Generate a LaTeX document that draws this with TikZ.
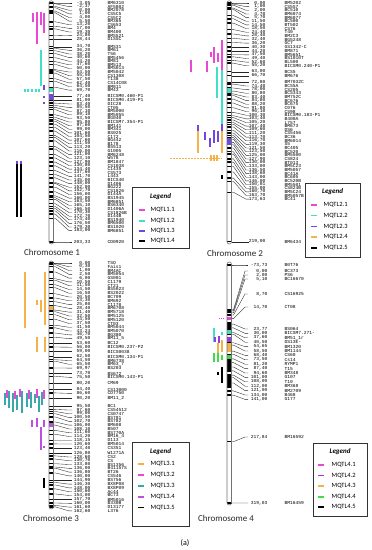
\documentclass[tikz,border=0pt]{standalone}
\usepackage{fontspec}
\setmainfont{Carlito}
\newfontfamily\monofam{Liberation Mono}
\newcommand\labfont{\monofam\fontsize{4.6}{5}\selectfont}
\definecolor{cmag}{RGB}{232,72,214}
\definecolor{cturq}{RGB}{64,224,200}
\definecolor{cpur}{RGB}{112,72,224}
\definecolor{corg}{RGB}{244,178,72}
\definecolor{cteal}{RGB}{56,168,168}
\definecolor{cvio}{RGB}{190,80,225}
\definecolor{cgrn}{RGB}{64,220,72}
\definecolor{cpurf}{RGB}{150,60,220}
\pgfkeys{/pgf/number format/.cd,fixed,fixed zerofill,precision=2,use comma,assume math mode=true}
\newcommand\mapchrom[9]{%
  \gdef\prevly{-100}%
  \foreach \cm/\nm [count=\i] in {#9}{%
    \pgfmathsetmacro\by{#3+(\cm-(#5))*#4}%
    \pgfmathsetmacro\ly{max(\by,\prevly+\lsp)}%
    \global\let\prevly\ly
    \draw[band] (#2,\by) -- ++(4.5,0);
    \node[lab,anchor=east] (#1p\i) at (#7,\ly) {\pgfmathprintnumber{\cm}};
    \node[lab,anchor=west] (#1n\i) at (#8,\ly) {\nm};
    \coordinate (#1e\i) at (#6,\ly);
    \draw[conn] (#2+4.5,\by) -- ++(2,0) -- (#6-3,\ly) -- (#1e\i);
  }%
}
\newcommand\mapchromfix[9]{%
  \foreach \cm/\nm/\ly [count=\i] in {#9}{%
    \pgfmathsetmacro\by{#3+(\cm-(#5))*#4}%
    \draw[band] (#2,\by) -- ++(4.5,0);
    \node[lab,anchor=east] (#1p\i) at (#7,\ly) {\pgfmathprintnumber{\cm}};
    \node[lab,anchor=west] (#1n\i) at (#8,\ly) {\nm};
    \coordinate (#1e\i) at (#6,\ly);
    \draw[conn] (#2+4.5,\by) -- ++(2,0) -- (#6-3,\ly) -- (#1e\i);
  }%
}
\begin{document}
\begin{tikzpicture}[x=1pt,y=-1pt,
  band/.style={line width=1.4pt,black},
  conn/.style={line width=0.35pt,black!85},
  lab/.style={font=\labfont,inner sep=0.3pt},
  barfill/.style={fill=white,rounded corners=2.2pt},
  barline/.style={draw=black!55,line width=0.6pt,rounded corners=2.2pt},
  q/.style={line width=1.1pt},
  leg/.style={draw=black!80,line width=0.9pt,fill=white},
  legt/.style={font=\fontsize{7}{8}\selectfont\bfseries\itshape},
  legl/.style={font=\fontsize{6.5}{7}\selectfont,anchor=west,inner sep=0.5pt},
  legk/.style={line width=1.5pt},
  ctitle/.style={font=\fontsize{9}{10}\selectfont,text=black!85}]
\useasboundingbox (0,0) rectangle (372,550);
\fill[white] (0,0) rectangle (372,550);

% ---------------- Chromosome 1
\fill[barfill] (49,0.8) rectangle (53.5,244);
\def\lsp{3.62}
\mapchrom{c1}{49}{3}{1.158}{-3.05}{72}{91}{107}{-3.05/BM6310,-2.37/AF5802,0/BM2078,1/CS5C5,4/CS5C2,5.5/BM365,13.2/CS653,17/BM4,19.3/BM400,24.8/BMS521,28.44/D1SSC,34.7/BMS31,36.2/BM61,38.2/T56,40.6/BM5456,44.2/BM81,47.6/BM513,50/BMS013,54.5/BM5042,55.5/CS1308,57.5/T138,62.4/CS14C08,64.5/BM811,69.7/BM43,77.4/BICSM0.460-P1,81/BICSM0.419-P1,83.4/DIC28,85.5/CT05,87.1/BM5000,89.1/BM5055,93.5/BG040,95.8/BICSM7.354-P1,97.6/BM141,99/BM341,101.6/BS025,104.5/C172,107.6/BG442,111.5/B178,113.2/BS513,116/G1005,121/BM6248,123.1/W578,127.9/BM1847,130.8/CS1038,134.4/C1435,137.6/CS573,141.7/L443,145/BICS40,148/D1406,152/BG222,152.7/CS1826,156/D144A,160/BS1945,163.5/BM6851,165.1/BS6340,166.5/D1406A,170.3/CS1826B,172.7/D144B,174.4/BS1940,176.5/BM6500,179.3/BS1020,183/BM6851,203.33/CD0920}
\fill[cturq] (49,88) rectangle (53.5,92);
\fill[cpur] (49,94) rectangle (53.5,100);
\draw[barline] (49,0.8) rectangle (53.5,244);
% QTL bars chr1
\draw[q,cmag] (33,13) -- (33,22);
\draw[q,cmag] (37,12) -- (37,44);
\draw[q,cmag] (41,12) -- (41,25);
\draw[q,cmag] (44,13) -- (44,33);
\draw[q,cturq] (41,50) -- (41,86);
\foreach \xx in {25,28,32,36,39}{\draw[q,cturq] (\xx,89) -- (\xx,92);}
\draw[q,cpur] (44,85) -- (44,90);
\draw[q,cpur] (44,96) -- (44,98);
\draw[q,cpur] (44,102) -- (44,104);
\draw[q,black] (17,163) -- (17,217);
\draw[q,black] (21,163) -- (21,217);
\draw[q,cpur] (17,161) -- (17,164);
\draw[q,cpur] (21,161) -- (21,164);
\node[ctitle] (t1) at (52,252) {Chromosome 1};
% legend 1
\draw[leg] (132,187) rectangle (189,248);
\node[legt] (l1t) at (160.5,197) {Legend};
\foreach \col/\txt/\yy [count=\k] in {cmag/MQTL1.1/210,cturq/MQTL1.2/221,cpur/MQTL1.3/231,black/MQTL1.4/241}{
  \coordinate (l1a\k) at (139,\yy); \coordinate (l1b\k) at (145,\yy);
  \draw[legk,\col] (l1a\k) -- (l1b\k);
  \node[legl] (l1l\k) at (150,\yy) {\txt};}

% ---------------- Chromosome 2
\fill[barfill] (227,0.8) rectangle (231.5,244);
\def\lsp{3.65}
\mapchrom{c2}{227}{3}{1.09}{0}{249}{266}{284}{0/BM5202,1/CS5S7,2/BC510,4.7/BM6074,5.7/BM6077,11.5/BC500,14.5/BT502,18.5/CS76,24.4/T40,28.4/BM2C3,32.4/BG5248,36.2/GC7,40.3/GS1342-C,44.2/BM871,47.5/BM5651,49.4/BS1010T,52.6/BL500,55.2/BICSM0.240-P1,63/BCS5,66.7/BM676,72.8/BM7032C,74.4/BCS5A,78/CS205,80.8/BCS343,83.4/BM752C,84.8/BC676,88.2/BC675,91.8/C076,96.1/CS98,100.3/BICSM0.183-P1,103.4/B400A,105.2/L757,107.4/BM673,109.6/DS6,111.2/CS5456,113.7/BC36,116.7/BM6014,119.3/S5,121.5/BC405,123.5/BC520,125/BM5500,127.9/CS824,130/BT013,133/BM5C23,136.5/BM5057,138.6/BC41A,143/BC605,146/BC520B,150.01/BM5501,155/CS824B,160.7/BM5C24,163.7/BM5057B,173.63/BC41,219/BM6434}
\fill[cturq] (227,88) rectangle (231.5,93);
\fill[cpur] (227,138) rectangle (231.5,145);
\draw[barline] (227,0.8) rectangle (231.5,244);
% QTL bars chr2
\draw[q,cmag] (222,40) -- (222,70);
\draw[q,cmag] (191,60) -- (191,72);
\draw[q,cmag] (207,61) -- (207,72);
\draw[q,cmag] (211,52) -- (211,57);
\draw[q,cmag] (214,47) -- (214,63);
\draw[q,cmag] (218,53) -- (218,62);
\draw[q,cturq] (217,67) -- (217,98);
\draw[q,cturq] (222,70) -- (222,124);
\draw[q,cpur] (198,125) -- (198,131);
\draw[q,corg] (198,131) -- (198,153);
\draw[q,cpur] (205,132) -- (205,140);
\draw[q,cpur] (210,138) -- (210,147);
\draw[q,cpur] (214,130) -- (214,143);
\draw[q,cpur] (218,131) -- (218,142);
\draw[q,cpur] (222,124) -- (222,131);
\draw[q,corg] (222,131) -- (222,153);
\draw[line width=0.8pt,corg,dash pattern=on 1.5pt off 1.5pt] (170,158) -- (222,158);
\foreach \xx in {211,214,217}{\draw[q,corg] (\xx,155) -- (\xx,161);}
\draw[q,black] (222,175) -- (222,179);
\node[ctitle] (t2) at (235,253) {Chromosome 2};
% legend 2
\draw[leg] (305,183) rectangle (360,257);
\node[legt] (l2t) at (332.5,192) {Legend};
\foreach \col/\txt/\yy [count=\k] in {cmag/MQTL2.1/205,cturq/MQTL2.2/215.5,cpur/MQTL2.3/226.5,corg/MQTL2.4/237,black/MQTL2.5/248}{
  \coordinate (l2a\k) at (311,\yy); \coordinate (l2b\k) at (317,\yy);
  \draw[legk,\col] (l2a\k) -- (l2b\k);
  \node[legl] (l2l\k) at (323,\yy) {\txt};}

% ---------------- Chromosome 3
\fill[barfill] (49,261) rectangle (53.5,509);
\def\lsp{3.78}
\mapchrom{c3}{49}{263}{1.5}{0}{72}{91}{107}{0/TSO,0.3/Fais1,1/BM4AC,2.5/BM5054,6/GS001,10.5/C1179,11.5/CT21,14.5/BS5023,16.5/BS2022,20.5/BC709,23.3/BM692,25.8/C1178,28.4/BM6708,31.4/BM5718,32.5/BM5125,34.5/BM5120,37.5/CT03,41.5/BM5044,43.24/BM5070,46.7/BG380,49.5/BM11\_5,53.6/BC12,56/BICSM0.237-P2,59/BICS0038,62.5/BICSM0.134-P1,64.5/BM6738,65.5/BM63\_7,69.97/BS203,73.7/BS672,75.5/BICSM0.143-P1,80.2/CM69,84.4/CS13000,86.6/CD7750,90.2/BM11\_2,95.5/BC1,97.6/CS54512,99/CS0747,100.5/BS781,102.7/BS782,106/BM608,108.1/B507,111.6/BS770A,114.2/BM16\_4,118.15/D113,120.6/BM5014,123.4/CS351,126.8/W1271A,128.6/CS2,130.7/CS,133.8/BS1356,136/B41157S,136.8/BT26,140/CS546,144.9/BS756,146.3/BX8P08,148/BX8P09,150.6/Ac44,154/BC73,157.7/BM5016,160/B330B,161.6/D13177,162.6/L376}
\fill[corg] (49,306) rectangle (53.5,310);
\fill[cvio] (49,423) rectangle (53.5,427);
\draw[barline] (49,261) rectangle (53.5,509);
% QTL bars chr3
\draw[q,corg] (25,272) -- (25,328);
\draw[q,corg] (45,272) -- (45,325);
\draw[q,corg] (37,300) -- (37,305);
\draw[q,corg] (41,300) -- (41,312);
\draw[q,corg] (37,337) -- (37,352);
\draw[q,corg] (45,337) -- (45,352);
\foreach \xx/\ya/\yb in {5/393/405,9/391/408,13/393/412,17/395/410,22/391/413,27/393/407,31/392/408,35/394/403,39/396/412,42/392/405}{\draw[q,cteal] (\xx,\ya) -- (\xx,\yb);}
\foreach \xx/\ya/\yb in {7/390/398,15/391/399,20/389/397,29/390/399,37/389/398,44/390/399}{\draw[q,cmag] (\xx,\ya) -- (\xx,\yb);}
\draw[q,cvio] (32,420) -- (32,427);
\draw[q,cvio] (37,418) -- (37,427);
\draw[q,cvio] (44,420) -- (44,427);
\draw[q,cvio] (41,427) -- (41,450);
\draw[q,cvio] (44,446) -- (44,448);
\draw[q,black] (44,478) -- (44,488);
\node[ctitle] (t3) at (51,518) {Chromosome 3};
% legend 3
\draw[leg] (132,442) rectangle (189,526);
\node[legt] (l3t) at (160.5,452) {Legend};
\foreach \col/\txt/\yy [count=\k] in {corg/MQTL3.1/464,cmag/MQTL3.2/475,cteal/MQTL3.3/486,cvio/MQTL3.4/497,black/MQTL3.5/507.5}{
  \coordinate (l3a\k) at (138,\yy); \coordinate (l3b\k) at (144,\yy);
  \draw[legk,\col] (l3a\k) -- (l3b\k);
  \node[legl] (l3l\k) at (150,\yy) {\txt};}

% ---------------- Chromosome 4
\fill[barfill] (227,262) rectangle (231.5,505);
\mapchromfix{c4}{227}{265}{0.606}{-73.73}{248}{268}{284}{-73.73/B0T76/265,0/BC373/271,2/PS6/275,5.1/BC16670/279,8.7/CS16925/294,14.7/CT08/307,23.77/BS064/329,30/BICSM7.271-/333.4,37.6/BM51\_1r/337.8,40.5/DS13E-/342.2,54.65/BM1320/346.6,58.5/BM1144/351,68.4/CS60/355.4,73.5/Cs14/359.8,81.2/RYMP1/364.2,87.4/T15/368.6,94.6/BM348/373,101/G107/377.4,108/T10/381.8,112/BM368/386.2,121/BM2709/390.6,134/B468/395,141/G177/399.4,217.84/BM16592/437,319.03/BM16459/503}
\fill[black] (227,322) rectangle (231.5,330);
\fill[black] (227,360) rectangle (231.5,372);
\fill[black] (227,376) rectangle (231.5,388);
\fill[cmag] (227,317) rectangle (231.5,319.5);
\fill[cturq] (227,330) rectangle (231.5,334);
\fill[cpurf] (227,337) rectangle (231.5,342);
\fill[corg] (227,343) rectangle (231.5,352);
\fill[cgrn] (227,355) rectangle (231.5,359);
\draw[barline] (227,262) rectangle (231.5,505);
% QTL bars chr4
\draw[line width=0.7pt,cmag,dash pattern=on 1pt off 1pt] (219,318) -- (225,318);
\draw[q,cturq] (214,328) -- (214,342);
\draw[q,cturq] (222,332) -- (222,335);
\draw[q,cpurf] (215,337) -- (215,342);
\draw[q,cpurf] (219,336) -- (219,343);
\draw[q,corg] (218,343) -- (218,353);
\draw[q,corg] (222,340) -- (222,352);
\draw[q,cgrn] (214,353) -- (214,362);
\draw[q,cgrn] (218,353) -- (218,362);
\draw[q,cgrn] (222,355) -- (222,360);
\draw[q,black] (222,367) -- (222,383);
\draw[q,black] (218,372) -- (218,375);
\node[ctitle] (t4) at (226,518) {Chromosome 4};
% legend 4
\draw[leg] (313,443) rectangle (367,516);
\node[legt] (l4t) at (340,452) {Legend};
\foreach \col/\txt/\yy [count=\k] in {cmag/MQTL4.1/465,cpurf/MQTL4.2/475.5,corg/MQTL4.3/486,cgrn/MQTL4.4/497,black/MQTL4.5/507}{
  \coordinate (l4a\k) at (318,\yy); \coordinate (l4b\k) at (324,\yy);
  \draw[legk,\col] (l4a\k) -- (l4b\k);
  \node[legl] (l4l\k) at (331,\yy) {\txt};}

\node[font=\fontsize{8}{9}\selectfont] (cap) at (185,543) {(a)};
\end{tikzpicture}
\end{document}
